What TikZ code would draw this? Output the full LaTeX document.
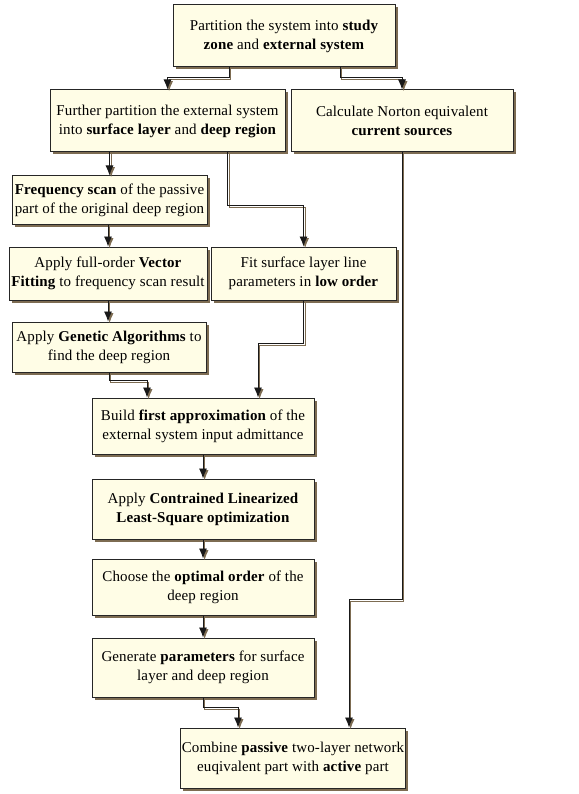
\documentclass[tikz,border=0pt]{standalone}
\usepackage{fontspec}
\setmainfont[LetterSpace=0.8]{Liberation Serif}
\usepackage{xcolor}
\usepackage{tikz}
\usetikzlibrary{shadows,arrows.meta}
\definecolor{boxfill}{HTML}{FFFDE6}
\definecolor{shadowbrown}{HTML}{7D6C52}
\tikzset{
  box/.style  = { draw=black!85, line width=1pt, fill=boxfill, align=center,
                  inner sep=1pt, font=\fontsize{15}{19}\selectfont,
                  drop shadow={shadow xshift=2.5pt, shadow yshift=-2.5pt,
                               fill=shadowbrown, opacity=1} },
  flow/.style = { line width=0.9pt, black!90, -{Latex[length=10pt,width=8pt]},
                  preaction={draw=shadowbrown, line width=0.9pt,
                             transform canvas={shift={(1.6pt,-1.6pt)}}} }
}

\begin{document}
\begin{tikzpicture}[x=1pt,y=-1pt]
\useasboundingbox (0,0) rectangle (578,794);
% steps
\node[box, minimum width=222pt, minimum height=62pt] (partition) at (284,36)
  {Partition the system into \textbf{study}\\ \textbf{zone} and \textbf{external system}};
\node[box, minimum width=235pt, minimum height=62pt] (further) at (167.5,121)
  {Further partition the external system\\ into \textbf{surface layer} and \textbf{deep region}};
\node[box, minimum width=222pt, minimum height=62pt] (norton) at (402,121)
  {Calculate Norton equivalent\\ \textbf{current sources}};
\node[box, minimum width=195pt, minimum height=49pt] (freqscan) at (109.5,200.5)
  {\textbf{Frequency scan} of the passive\\ part of the original deep region};
\node[box, minimum width=198pt, minimum height=53pt] (vecfit) at (108,273.5)
  {Apply full-order \textbf{Vector}\\ \textbf{Fitting} to frequency scan result};
\node[box, minimum width=185pt, minimum height=53pt] (fitsurf) at (303.5,273.5)
  {Fit surface layer line\\ parameters in \textbf{low order}};
\node[box, minimum width=194pt, minimum height=50pt] (genetic) at (109,347)
  {Apply \textbf{Genetic Algorithms} to\\ find the deep region};
\node[box, minimum width=222pt, minimum height=56pt] (firstapprox) at (203,426)
  {Build \textbf{first approximation} of the\\ external system input admittance};
\node[box, minimum width=222pt, minimum height=60pt] (cllsq) at (203,509)
  {Apply \textbf{Contrained Linearized}\\ \textbf{Least-Square optimization}};
\node[box, minimum width=222pt, minimum height=56pt] (optorder) at (203,587)
  {Choose the \textbf{optimal order} of the\\ deep region};
\node[box, minimum width=222pt, minimum height=59pt] (genparam) at (203,667.5)
  {Generate \textbf{parameters} for surface\\ layer and deep region};
\node[box, minimum width=222pt, minimum height=60pt] (combine) at (293,758)
  {Combine \textbf{passive} two-layer network\\ euqivalent part with \textbf{active} part};
% connectors
\draw[flow] ([xshift=-55pt]partition.south) -- ++(0,10) -| (further.north);
\draw[flow] ([xshift=56pt]partition.south) -- ++(0,10) -| (norton.north);
\draw[flow] (freqscan.north |- further.south) -- (freqscan.north);
\draw[flow] ([xshift=60pt]further.south) -- ++(0,53) -| (fitsurf.north);
\draw[flow] (norton.south) -- ++(0,447) -| ([xshift=56pt]combine.north);
\draw[flow] (freqscan.south -| vecfit.north) -- (vecfit.north);
\draw[flow] (vecfit.south) -- (vecfit.south |- genetic.north);
\draw[flow] (genetic.south) -- ++(0,8) -| ([xshift=-56pt]firstapprox.north);
\draw[flow] (fitsurf.south) -- ++(0,43) -| ([xshift=55pt]firstapprox.north);
\draw[flow] (firstapprox) -- (cllsq);
\draw[flow] (cllsq) -- (optorder);
\draw[flow] (optorder) -- (genparam);
\draw[flow] (genparam.south) -- ++(0,10) -| ([xshift=-55pt]combine.north);
\end{tikzpicture}
\end{document}
